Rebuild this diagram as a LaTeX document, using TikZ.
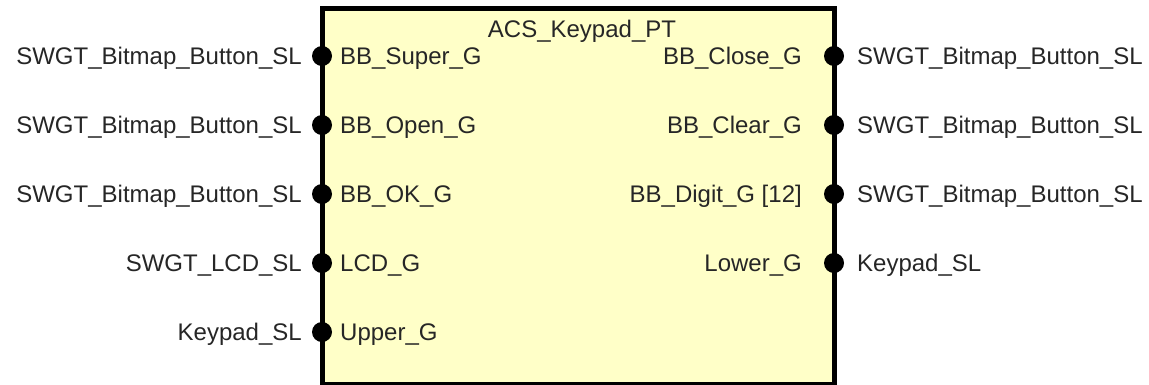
\documentclass[tikz,border=0pt]{standalone}
\usepackage{fontspec}
\setmainfont{Liberation Sans}
\begin{document}
\begin{tikzpicture}[x=1pt,y=-1pt,
  lbl/.style={inner sep=0pt, font=\fontsize{24}{28}\selectfont, text=black!85},
  port/.style={circle, fill=black, inner sep=0pt, minimum size=20pt},
  block/.style={draw=black, line width=5pt, fill={rgb,255:red,255;green,255;blue,200}, rectangle, inner sep=0pt, minimum width=512pt, minimum height=376pt}]
\useasboundingbox (0,0) rectangle (1149,384);
\fill[white] (0,0) rectangle (1149,384);
\node[block] (box) at (578,196) {};
\node[lbl, anchor=base] (title) at (582,37) {ACS\_Keypad\_PT};
% left ports
\foreach \i/\y/\outer/\inner in {1/56/SWGT\_Bitmap\_Button\_SL/BB\_Super\_G,
                                  2/125/SWGT\_Bitmap\_Button\_SL/BB\_Open\_G,
                                  3/194/SWGT\_Bitmap\_Button\_SL/BB\_OK\_G,
                                  4/263/SWGT\_LCD\_SL/LCD\_G,
                                  5/332/Keypad\_SL/Upper\_G} {
  \node[port] (lp\i) at (322,\y) {};
  \node[lbl, anchor=base east] (lo\i) at (302,\y+8.5) {\outer};
  \node[lbl, anchor=base west] (li\i) at (340,\y+8.5) {\inner};
}
% right ports
\foreach \i/\y/\outer/\inner in {1/56/SWGT\_Bitmap\_Button\_SL/BB\_Close\_G,
                                  2/125/SWGT\_Bitmap\_Button\_SL/BB\_Clear\_G,
                                  3/194/SWGT\_Bitmap\_Button\_SL/{BB\_Digit\_G [12]},
                                  4/263/Keypad\_SL/Lower\_G} {
  \node[port] (rp\i) at (834,\y) {};
  \node[lbl, anchor=base west] (ro\i) at (857,\y+8.5) {\outer};
  \node[lbl, anchor=base east] (ri\i) at (802,\y+8.5) {\inner};
}
\end{tikzpicture}
\end{document}
